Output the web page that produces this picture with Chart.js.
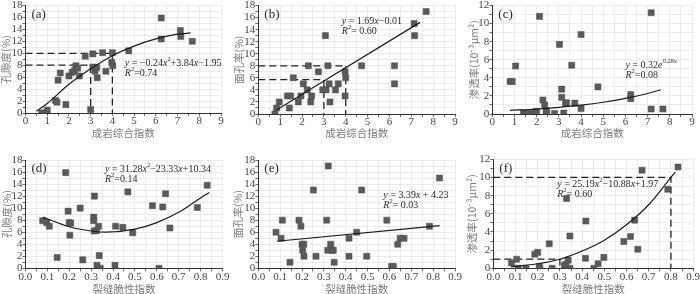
<!DOCTYPE html>
<html>
<head>
<meta charset="utf-8">
<script src="https://cdn.jsdelivr.net/npm/chart.js@4.4.0/dist/chart.umd.min.js"></script>
<style>
  body { margin: 0; background: #fff; width: 700px; height: 294px; position: relative; overflow: hidden; }
  canvas { position: absolute; }
</style>
</head>
<body>
<canvas id="ca" width="232" height="147" style="left:0;top:0"></canvas>
<canvas id="cb" width="233" height="147" style="left:232px;top:0"></canvas>
<canvas id="cc" width="235" height="147" style="left:465px;top:0"></canvas>
<canvas id="cd" width="232" height="147" style="left:0;top:147px"></canvas>
<canvas id="ce" width="233" height="147" style="left:232px;top:147px"></canvas>
<canvas id="cf" width="235" height="147" style="left:465px;top:147px"></canvas>
<script>
// tick labels
var topXTicks = [0, 1, 2, 3, 4, 5, 6, 7, 8, 9];
var botXTicks = [0, 0.1, 0.2, 0.3, 0.4, 0.5, 0.6, 0.7, 0.8, 0.9];
var porTicks = [0, 2, 4, 6, 8, 10, 12, 14, 16, 18];
var permTicks = [0, 2, 4, 6, 8, 10, 12];

var xTitleTop = '成岩综合指数';
var xTitleBot = '裂缝脆性指数';
var porTitle = '孔隙度(%)';
var areaTitle = '面孔率(%)';
var permTitle = '渗透率(10⁻³μm²)';

// (a) porosity vs diagenetic index
var aX = [0.75, 0.85, 1.0, 1.38, 1.45, 1.5, 1.6, 1.86, 2.0, 2.15, 2.25, 2.32, 2.4, 2.48, 2.75, 3.0, 3.1, 3.1, 3.2, 3.28, 3.3, 3.55, 3.7, 3.97, 4.0, 4.02, 4.75, 6.25, 6.25, 7.13, 7.15, 7.68];
var aY = [0, 0, 0.5, 2.1, 1.8, 5.5, 6.7, 1.4, 6.2, 6.8, 7.1, 7.9, 7.5, 6.2, 9.5, 0.6, 9.9, 7.7, 7.0, 7.6, 5.9, 10.1, 7.0, 8.5, 10.1, 7.9, 10.4, 15.9, 12.4, 13.8, 12.8, 12.0];
var aFitX = [0.5, 1, 2, 3, 4, 5, 6, 7, 7.6];
var aFitY = [0.3, 1.6, 4.8, 7.4, 9.6, 11.2, 12.4, 13.2, 13.4];
var aGuideX = [3, 4];
var aGuideY = [8, 10];

// (b) face porosity vs diagenetic index
var bX = [0.76, 0.84, 0.96, 1.33, 1.48, 1.42, 1.6, 1.83, 1.95, 2.06, 2.24, 2.29, 2.4, 2.44, 2.75, 2.95, 3.07, 3.1, 3.19, 3.24, 3.28, 3.53, 3.66, 3.97, 4.0, 3.97, 4.73, 6.23, 6.23, 7.13, 7.15, 7.68];
var bY = [0, 1, 2, 3, 3, 1, 6, 2, 3, 5, 4, 8, 2, 3, 7, 4, 13, 4, 8, 5, 2, 4, 5, 7, 6, 3, 8, 8, 5, 15, 13, 17];
var bFitX = [0.85, 7.4];
var bFitY = [0.7, 15.2];
var bGuideX = [3, 4];
var bGuideY = [5.7, 8];

// (c) permeability vs diagenetic index
var cX = [0.8, 0.9, 1.05, 1.4, 1.5, 1.6, 1.75, 1.9, 2.0, 2.13, 2.28, 2.36, 2.43, 2.45, 2.8, 3.03, 3.13, 3.13, 3.22, 3.3, 3.35, 3.58, 3.72, 4.0, 4.0, 4.76, 6.24, 6.24, 7.16, 7.16, 7.69];
var cY = [3.6, 3.6, 5.3, 0.1, 0.05, 0, 0.05, 0, 0.3, 10.8, 1.55, 1.0, 0.35, 0.1, 0.05, 7.7, 2.75, 1.85, 0.1, 1.2, 1.25, 5.4, 1.2, 8.8, 0.6, 3.0, 2.15, 1.7, 11.2, 0.55, 0.55];
var cFitX = [0.8, 2, 3, 4, 5, 6, 7, 7.6];
var cFitY = [0.4, 0.55, 0.74, 0.98, 1.3, 1.72, 2.27, 2.68];

// (d) porosity vs fracture brittleness index
var dX = [0.079, 0.097, 0.109, 0.145, 0.184, 0.195, 0.2, 0.207, 0.203, 0.25, 0.262, 0.315, 0.312, 0.312, 0.314, 0.325, 0.327, 0.334, 0.337, 0.342, 0.412, 0.409, 0.445, 0.468, 0.49, 0.58, 0.61, 0.627, 0.64, 0.66, 0.785, 0.83];
var dY = [7.9, 7.6, 7.0, 1.8, 15.9, 9.5, 7.6, 7.5, 5.5, 10.0, 1.4, 12.0, 8.5, 7.9, 6.2, 6.3, 0.5, 7.0, 2.1, 0, 7.0, 0.5, 6.8, 12.7, 5.9, 10.4, 0, 10.2, 12.4, 6.7, 10.1, 13.8];
var dFitX = [0.08, 0.2, 0.3, 0.37, 0.5, 0.6, 0.7, 0.8, 0.84];
var dFitY = [8.5, 6.9, 6.2, 6.0, 6.5, 7.6, 9.3, 11.7, 12.6];

// (e) face porosity vs fracture brittleness index
var eX = [0.081, 0.104, 0.11, 0.145, 0.186, 0.195, 0.2, 0.208, 0.203, 0.209, 0.252, 0.264, 0.313, 0.32, 0.318, 0.331, 0.337, 0.343, 0.347, 0.415, 0.415, 0.45, 0.473, 0.496, 0.588, 0.61, 0.618, 0.638, 0.649, 0.667, 0.783, 0.829];
var eY = [6, 5, 8, 1, 8, 7, 4, 4, 3, 2, 13, 2, 8, 17, 3, 4, 3, 3, 1, 5, 2, 6, 13, 2, 8, 0.3, 0.3, 4, 5, 5, 7, 15];
var eFitX = [0.085, 0.83];
var eFitY = [4.5, 7.1];

// (f) permeability vs fracture brittleness index
var fX = [0.082, 0.105, 0.112, 0.147, 0.187, 0.2, 0.207, 0.21, 0.252, 0.265, 0.32, 0.327, 0.33, 0.337, 0.345, 0.345, 0.415, 0.417, 0.453, 0.472, 0.498, 0.588, 0.618, 0.637, 0.651, 0.67, 0.786, 0.832];
var fY = [0.6, 1.0, 0, 0, 1.55, 1.75, 0.2, 0, 2.7, 0, 0.3, 0.45, 7.7, 0.9, 0, 3.55, 1.1, 5.2, 0, 0.5, 1.2, 2.95, 3.5, 5.3, 2.1, 10.8, 8.7, 11.15];
var fFitX = [0.08, 0.2, 0.3, 0.4, 0.5, 0.6, 0.7, 0.8, 0.82];
var fFitY = [0.15, 0.5, 1.0, 1.9, 3.1, 4.8, 7.0, 10.0, 10.6];
var fGuideX = [0.3, 0.8];
var fGuideY = [1, 10];

var SERIF = '"Liberation Serif", "Times New Roman", serif';
var CJK = '"Noto Sans CJK SC", sans-serif';

function withMinors(majors) {
  var out = majors.slice();
  for (var i = 0; i < majors.length - 1; i++) out.push((majors[i] + majors[i + 1]) / 2);
  return out.sort(function (a, b) { return a - b; });
}

function isMajor(majors, v) {
  return majors.some(function (m) { return Math.abs(m - v) < 1e-9; });
}

// draws panel letter and the fit equation with italics / superscripts
function eqPlugin(label, at, lines) {
  return {
    id: 'eq',
    afterDatasetsDraw: function (chart) {
      var ctx = chart.ctx, area = chart.chartArea;
      ctx.save();
      ctx.fillStyle = '#2a2a2a';
      ctx.textBaseline = 'middle';
      ctx.textAlign = 'left';
      ctx.font = '13px ' + SERIF;
      ctx.fillText(label, area.left + 6, area.top + 9);
      var x0 = chart.scales.x.getPixelForValue(at[0]);
      var y0 = chart.scales.y.getPixelForValue(at[1]);
      lines.forEach(function (line, i) {
        var x = x0, y = y0 + i * 10;
        line.split(/(<[a-z]+>[^<]*<\/[a-z]+>)/).forEach(function (part) {
          if (!part) return;
          var m = part.match(/^<([a-z]+)>([^<]*)<\/[a-z]+>$/);
          var tag = m ? m[1] : '', txt = m ? m[2] : part;
          var sup = tag === 'sup' || tag === 'si';
          var ital = tag === 'i' || tag === 'si';
          ctx.font = (ital ? 'italic ' : '') + (sup ? 6.5 : 10) + 'px ' + SERIF;
          ctx.fillText(txt, x, sup ? y - 4 : y);
          x += ctx.measureText(txt).width;
        });
      });
      ctx.restore();
    }
  };
}

function makeChart(id, o) {
  var datasets = [];
  (o.gx || []).forEach(function (gx, i) {
    var gy = o.gy[i];
    datasets.push({
      data: [{ x: o.xTicks[0], y: gy }, { x: gx, y: gy }, { x: gx, y: o.yTicks[0] }],
      showLine: true, borderColor: '#222', borderWidth: 1.3, borderDash: [7, 4],
      pointRadius: 0, order: 3
    });
  });
  datasets.push({
    data: o.x.map(function (v, i) { return { x: v, y: o.y[i] }; }),
    pointStyle: 'rect', pointRadius: 4.3, backgroundColor: '#5a5a5a',
    borderColor: '#4e4e4e', borderWidth: 0.5, order: 2
  });
  datasets.push({
    data: o.fx.map(function (v, i) { return { x: v, y: o.fy[i] }; }),
    showLine: true, borderColor: '#1a1a1a', borderWidth: 1.2, pointRadius: 0,
    tension: 0.4, cubicInterpolationMode: 'monotone', order: 1
  });

  var xMaj = o.xTicks, yMaj = o.yTicks;
  new Chart(document.getElementById(id), {
    type: 'scatter',
    data: { datasets: datasets },
    options: {
      responsive: false,
      animation: false,
      layout: { padding: { top: o.top, right: o.right, left: 0, bottom: 0 } },
      plugins: { legend: { display: false }, tooltip: { enabled: false } },
      scales: {
        x: {
          min: xMaj[0], max: xMaj[xMaj.length - 1],
          afterBuildTicks: function (ax) { ax.ticks = withMinors(xMaj).map(function (v) { return { value: v }; }); },
          afterFit: function (ax) { ax.height = o.xH; },
          ticks: {
            autoSkip: false, maxRotation: 0, padding: 0, color: '#444',
            font: { family: SERIF, size: 11, lineHeight: 1 },
            callback: function (v) { return isMajor(xMaj, v) ? v.toFixed(o.xDec) : ''; }
          },
          grid: { color: '#e6e6e6', lineWidth: 0.8, tickLength: 3, tickColor: '#444' },
          border: { color: '#333', width: 1 },
          title: {
            display: true, text: o.xTitle, color: '#7a7a7a',
            font: { family: CJK, size: 10.5, lineHeight: 1 },
            padding: { top: 0, bottom: o.xTitlePad }
          }
        },
        y: {
          min: yMaj[0], max: yMaj[yMaj.length - 1],
          afterBuildTicks: function (ax) { ax.ticks = withMinors(yMaj).map(function (v) { return { value: v }; }); },
          afterFit: function (ax) { ax.width = o.yW; },
          ticks: {
            autoSkip: false, padding: 0, color: '#444',
            font: { family: SERIF, size: 11, lineHeight: 1 },
            callback: function (v) { return isMajor(yMaj, v) ? String(v) : ''; }
          },
          grid: { color: '#e6e6e6', lineWidth: 0.8, tickLength: 3, tickColor: '#444' },
          border: { color: '#333', width: 1 },
          title: {
            display: true, text: o.yTitle, color: '#7a7a7a',
            font: { family: CJK, size: 10.5, lineHeight: 1 },
            padding: { top: o.yTitlePad, bottom: 0 }
          }
        }
      }
    },
    plugins: [eqPlugin(o.label, o.eqAt, o.eq)]
  });
}

makeChart('ca', {
  x: aX, y: aY, fx: aFitX, fy: aFitY, gx: aGuideX, gy: aGuideY,
  xTicks: topXTicks, yTicks: porTicks, xDec: 0, xTitle: xTitleTop, yTitle: porTitle,
  top: 5, right: 11, yW: 25.5, xH: 34, xTitlePad: 8.7, yTitlePad: 0.8,
  label: '(a)', eqAt: [4.57, 8.3],
  eq: ['<i>y</i> = −0.24<i>x</i><sup>2</sup>+3.84<i>x</i>−1.95', '<i>R</i><sup>2</sup>=0.74']
});
makeChart('cb', {
  x: bX, y: bY, fx: bFitX, fy: bFitY, gx: bGuideX, gy: bGuideY,
  xTicks: topXTicks, yTicks: porTicks, xDec: 0, xTitle: xTitleTop, yTitle: areaTitle,
  top: 5, right: 10, yW: 26.3, xH: 33, xTitlePad: 8.7, yTitlePad: 1.7,
  label: '(b)', eqAt: [3.82, 15.3],
  eq: ['<i>y</i> = 1.69<i>x</i>−0.01', '<i>R</i><sup>2</sup>= 0.60']
});
makeChart('cc', {
  x: cX, y: cY, fx: cFitX, fy: cFitY,
  xTicks: topXTicks, yTicks: permTicks, xDec: 0, xTitle: xTitleTop, yTitle: permTitle,
  top: 5, right: 8, yW: 27.3, xH: 33, xTitlePad: 8.7, yTitlePad: 4,
  label: '(c)', eqAt: [6.0, 5.4],
  eq: ['<i>y</i> = 0.32<i>e</i><si>0.28x</si>', '<i>R</i><sup>2</sup>=0.08']
});
makeChart('cd', {
  x: dX, y: dY, fx: dFitX, fy: dFitY,
  xTicks: botXTicks, yTicks: porTicks, xDec: 1, xTitle: xTitleBot, yTitle: porTitle,
  top: 13, right: 9.5, yW: 25.4, xH: 25.7, xTitlePad: 0, yTitlePad: 2.2,
  label: '(d)', eqAt: [0.363, 16.4],
  eq: ['<i>y</i> = 31.28<i>x</i><sup>2</sup>−23.33<i>x</i>+10.34', '<i>R</i><sup>2</sup>=0.14']
});
makeChart('ce', {
  x: eX, y: eY, fx: eFitX, fy: eFitY,
  xTicks: botXTicks, yTicks: porTicks, xDec: 1, xTitle: xTitleBot, yTitle: areaTitle,
  top: 13, right: 10, yW: 26.3, xH: 25.7, xTitlePad: 0, yTitlePad: 0.3,
  label: '(e)', eqAt: [0.572, 12.06],
  eq: ['<i>y</i> = 3.39<i>x</i> + 4.23', '<i>R</i><sup>2</sup>= 0.03']
});
makeChart('cf', {
  x: fX, y: fY, fx: fFitX, fy: fFitY, gx: fGuideX, gy: fGuideY,
  xTicks: botXTicks, yTicks: permTicks, xDec: 1, xTitle: xTitleBot, yTitle: permTitle,
  top: 12.3, right: 6.7, yW: 28.3, xH: 25.7, xTitlePad: 0, yTitlePad: 1.5,
  label: '(f)', eqAt: [0.288, 9.25],
  eq: ['<i>y</i> = 25.19<i>x</i><sup>2</sup>−10.88<i>x</i>+1.97', '<i>R</i><sup>2</sup>= 0.60']
});
</script>
</body>
</html>
